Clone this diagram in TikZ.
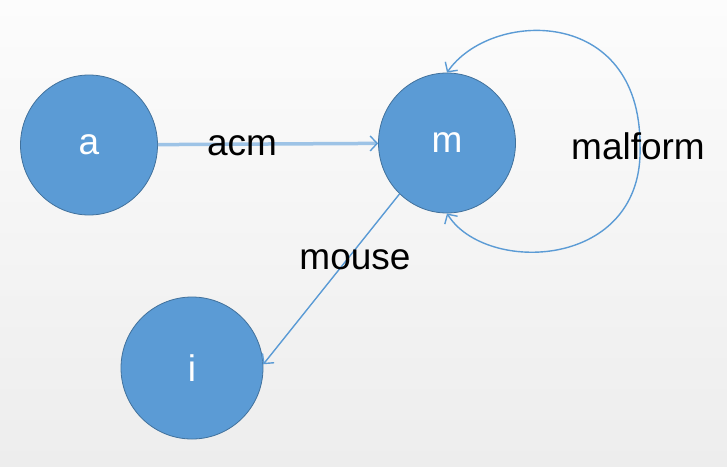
\documentclass[tikz,border=0pt]{standalone}
\usepackage{fontspec}
\setmainfont{Liberation Sans}
\usetikzlibrary{shapes.geometric,arrows.meta}
\definecolor{nodefill}{HTML}{5B9BD5}
\definecolor{nodeline}{HTML}{41719C}
\definecolor{edgecol}{HTML}{5B9BD5}
\definecolor{edgelight}{HTML}{9DC3E6}
\definecolor{bgtop}{HTML}{FCFCFC}
\definecolor{bgbot}{HTML}{EDEDED}
\tikzset{
  vertex/.style={ellipse, fill=nodefill, draw=nodeline, line width=0.8pt,
    minimum width=137pt, minimum height=140pt, inner sep=0pt,
    text=white, font=\fontsize{37}{40}\selectfont},
  edge/.style={draw=edgecol, line width=1.4pt,
    -{Straight Barb[length=7pt,width=15pt,line width=1.4pt]}},
  elabel/.style={text=black, font=\fontsize{37}{40}\selectfont, inner sep=0pt}
}
\begin{document}
\begin{tikzpicture}[x=1pt,y=-1pt]
\shade[top color=bgtop, bottom color=bgbot] (0,0) rectangle (727,466);
\useasboundingbox (0,0) rectangle (727,466);
\node[vertex] (a) at (89,145) {a};
\node[vertex] (m) at (447,143) {m};
\node[vertex, minimum width=142pt, minimum height=142pt] (i) at (192,368) {i};
\draw[edge, draw=edgelight, line width=3.5pt,
  -{Straight Barb[length=7pt,width=15pt,line width=1.4pt,color=edgecol]}] (a) -- (m);
\node[elabel] (lacm) at (242,146) {acm};
\draw[edge] (m.227) -- (i.3);
\node[elabel] (lmouse) at (355,260) {mouse};
\draw[edge, {Straight Barb[length=7pt,width=15pt,line width=1.4pt]}-{Straight Barb[length=7pt,width=15pt,line width=1.4pt]}]
  (m.south) .. controls (485,275) and (645,270) .. (640,145)
  .. controls (640,5) and (490,10) .. (m.north);
\node[elabel] (lmalform) at (638,146) {malform};
\end{tikzpicture}
\end{document}
